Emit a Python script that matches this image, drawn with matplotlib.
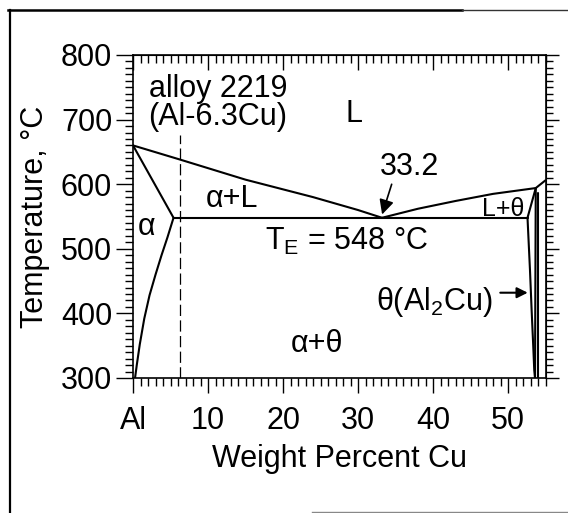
import matplotlib
matplotlib.use("Agg")
import matplotlib.pyplot as plt
from matplotlib.lines import Line2D
from matplotlib.ticker import MultipleLocator

plt.rcParams['font.family'] = ['Liberation Sans', 'DejaVu Sans']
plt.rcParams['mathtext.fontset'] = 'custom'
plt.rcParams['mathtext.rm'] = 'Liberation Sans'

# Al-Cu phase diagram (Al-rich side)
liquidus_left_cu = [0, 6.3, 15, 24, 30, 33.2]
liquidus_left_t = [660, 638, 607, 580, 560, 548]
liquidus_right_cu = [33.2, 38, 43, 48, 53.7, 55.0]
liquidus_right_t = [548, 562, 574, 585, 594, 606]
solidus_cu = [0, 5.4]
solidus_t = [660, 548]
solvus_cu = [5.4, 4.6, 3.8, 3.0, 2.2, 1.5, 0.9, 0.5, 0.27]
solvus_t = [548, 518, 490, 460, 428, 392, 352, 320, 300]
eutectic_cu = [5.4, 52.6]
eutectic_t = [548, 548]
theta_liq_cu = [52.6, 53.7]
theta_liq_t = [548, 594]
theta_left_cu = [52.6, 52.93, 53.15, 53.37, 53.5, 53.6]
theta_left_t = [548, 467, 405, 348, 312, 300]
theta_mid_cu = [53.7, 53.6]
theta_mid_t = [594, 300]
theta_right_cu = [53.95, 53.95]
theta_right_t = [586, 300]
alloy_cu = [6.3, 6.3]
alloy_t = [300, 676]

x_ticks = [0, 10, 20, 30, 40, 50]
x_tick_labels = ['Al', '10', '20', '30', '40', '50']
y_ticks = [300, 400, 500, 600, 700, 800]

fig = plt.figure(figsize=(5.68, 5.13), dpi=100)
ax = fig.add_axes([0.2342, 0.2632, 0.9604 - 0.2342, 0.8928 - 0.2632])

lw = 1.5
for xs, ts in [(liquidus_left_cu, liquidus_left_t), (liquidus_right_cu, liquidus_right_t),
               (solidus_cu, solidus_t), (solvus_cu, solvus_t), (eutectic_cu, eutectic_t),
               (theta_liq_cu, theta_liq_t), (theta_left_cu, theta_left_t),
               (theta_mid_cu, theta_mid_t), (theta_right_cu, theta_right_t)]:
    ax.plot(xs, ts, color='black', lw=lw, solid_capstyle='round', solid_joinstyle='round')
ax.plot(alloy_cu, alloy_t, color='black', lw=0.9, dashes=(9, 3.5))

ax.set_xlim(0, 55)
ax.set_ylim(300, 800)
ax.set_xticks(x_ticks)
ax.set_xticklabels(x_tick_labels)
ax.set_yticks(y_ticks)
ax.xaxis.set_minor_locator(MultipleLocator(1))
ax.yaxis.set_minor_locator(MultipleLocator(10))

for s in ax.spines.values():
    s.set_linewidth(1.2)

fs = 22
ax.tick_params(axis='both', which='both', labelsize=fs, direction='out',
               top=False, right=False, width=1.0)
ax.tick_params(axis='y', which='major', length=12, pad=3)
ax.tick_params(axis='y', which='minor', length=6)
ax.tick_params(axis='x', which='major', length=11, pad=9)
ax.tick_params(axis='x', which='minor', length=6)

top = ax.secondary_xaxis('top')
top.set_xticks(x_ticks)
top.xaxis.set_minor_locator(MultipleLocator(1))
top.tick_params(which='both', direction='in', labeltop=False, width=1.0)
top.tick_params(which='major', length=11)
top.tick_params(which='minor', length=6)

right = ax.secondary_yaxis('right')
right.set_yticks(y_ticks)
right.yaxis.set_minor_locator(MultipleLocator(10))
right.tick_params(which='both', direction='out', labelright=False, width=1.0)
right.tick_params(which='major', length=9)
right.tick_params(which='minor', length=5)

ax.set_xlabel('Weight Percent Cu', fontsize=fs, labelpad=6)
ax.set_ylabel('Temperature, °C', fontsize=fs, labelpad=8)

# phase field labels
ax.text(11.3, 735, 'alloy 2219', fontsize=fs, ha='center', va='baseline')
ax.text(11.3, 691, '(Al-6.3Cu)', fontsize=fs, ha='center', va='baseline')
ax.text(29.5, 696, 'L', fontsize=fs, ha='center', va='baseline')
ax.text(36.9, 614, '33.2', fontsize=fs, ha='center', va='baseline')
ax.text(13.2, 565, 'α+L', fontsize=fs, ha='center', va='baseline')
ax.text(1.85, 521, 'α', fontsize=fs, ha='center', va='baseline')
ax.text(17.6, 498, r'T$_\mathregular{E}$ = 548 °C', fontsize=fs, ha='left', va='baseline')
ax.text(24.5, 340, 'α+θ', fontsize=fs, ha='center', va='baseline')
ax.text(48.0, 405, r'θ(Al$_\mathregular{2}$Cu)', fontsize=fs, ha='right', va='baseline')
ax.text(49.4, 550, 'L+θ', fontsize=18, ha='center', va='baseline')

ax.annotate('', xy=(33.1, 549), xytext=(34.6, 604),
            arrowprops=dict(arrowstyle='-|>', color='black', lw=1.2, mutation_scale=22))
ax.annotate('', xy=(53.0, 432), xytext=(48.6, 432),
            arrowprops=dict(arrowstyle='-|>', color='black', lw=1.5, mutation_scale=16))

# scanned page frame
fig.add_artist(Line2D([9.5 / 568, 9.5 / 568], [0, 1 - 10 / 513], color='black', lw=1.6,
                      transform=fig.transFigure))
fig.add_artist(Line2D([8 / 568, 462 / 568], [1 - 10 / 513, 1 - 10 / 513], color='black', lw=1.8,
                      transform=fig.transFigure))
fig.add_artist(Line2D([462 / 568, 1], [1 - 10 / 513, 1 - 10 / 513], color='#333333', lw=1.0,
                      transform=fig.transFigure))
fig.add_artist(Line2D([312 / 568, 1], [1 - 512 / 513, 1 - 512 / 513], color='#888888', lw=1.0,
                      transform=fig.transFigure))

fig.savefig('out.png', dpi=100)
